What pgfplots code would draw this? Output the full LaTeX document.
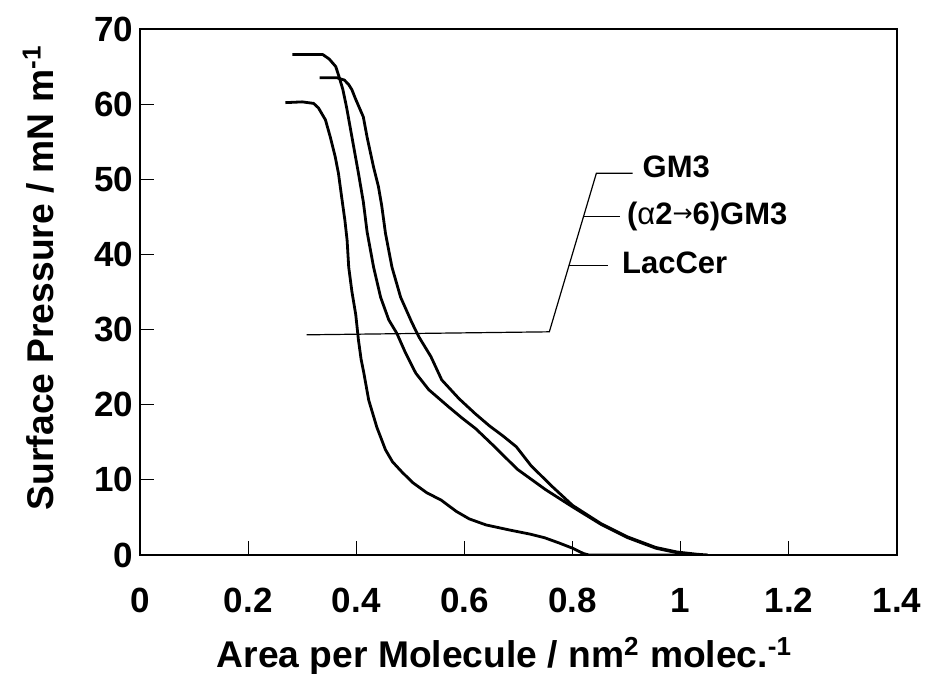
\documentclass[border=0pt]{standalone}
\usepackage{fontspec}
\setmainfont{Liberation Sans}
\newfontfamily\dejavu{DejaVu Sans}
\usepackage{pgfplots}
\pgfplotsset{compat=1.18}
\begin{document}
\begin{tikzpicture}
\begin{axis}[
  scale only axis, width=378.5pt, height=263pt,
  xmin=0, xmax=1.4, ymin=0, ymax=70,
  xtick={0,0.2,0.4,0.6,0.8,1,1.2,1.4},
  xticklabels={0,0.2,0.4,0.6,0.8,1,1.2,1.4},
  ytick={0,10,20,30,40,50,60,70},
  tick align=inside, tick pos=left,
  major tick length=7pt,
  axis line style={line width=0.8pt},
  tick style={line width=0.6pt, black},
  /pgf/number format/assume math mode=true,
  tick label style={font=\fontsize{17.5}{20}\selectfont\bfseries},
  xticklabel style={anchor=base, yshift=-29pt},
  xlabel={Area per Molecule / nm\textsuperscript{2} molec.\textsuperscript{-1}},
  ylabel={Surface Pressure / mN m\textsuperscript{-1}},
  label style={font=\fontsize{18.6}{20}\selectfont\bfseries},
  xlabel style={at={(axis description cs:0.4815,-0.2148)}, anchor=base},
  ylabel style={at={(axis description cs:-0.1148,0.527)}, anchor=base},
]
% left curve (plateau ~60)
\addplot[black, line width=1.4pt, line join=round] coordinates {
(0.269,60.2)(0.300,60.3)(0.321,60.1)(0.330,59.5)(0.343,57.9)(0.352,55.6)(0.361,53.0)
(0.367,50.8)(0.373,47.6)(0.379,44.5)(0.383,41.9)(0.386,38.3)(0.392,35.0)(0.399,32.0)
(0.404,28.6)(0.409,26.0)(0.414,24.2)(0.423,20.6)(0.438,17.0)(0.454,14.0)(0.467,12.4)
(0.485,11.0)(0.505,9.6)(0.530,8.3)(0.557,7.3)(0.585,5.8)(0.609,4.8)(0.640,4.0)
(0.685,3.3)(0.720,2.8)(0.748,2.3)(0.775,1.6)(0.800,0.9)(0.820,0.2)(0.830,0)(1.0,0)};
% middle curve (plateau ~66.6)
\addplot[black, line width=1.4pt, line join=round] coordinates {
(0.282,66.6)(0.338,66.6)(0.350,66.0)(0.362,65.0)(0.367,63.9)(0.375,62.0)(0.382,59.6)
(0.392,55.6)(0.404,50.8)(0.413,47.0)(0.420,43.0)(0.432,38.3)(0.445,34.3)(0.460,31.3)
(0.475,29.5)(0.491,26.9)(0.510,24.2)(0.534,22.0)(0.571,19.7)(0.596,18.2)(0.621,16.8)
(0.653,14.6)(0.698,11.4)(0.750,8.7)(0.800,6.4)(0.852,4.1)(0.902,2.3)(0.954,0.9)
(0.993,0.3)(1.03,0)};
% right curve (plateau ~63.5)
\addplot[black, line width=1.4pt, line join=round] coordinates {
(0.332,63.5)(0.365,63.5)(0.378,63.2)(0.386,62.6)(0.392,61.9)(0.398,60.8)(0.413,58.3)
(0.420,55.6)(0.432,51.6)(0.441,49.0)(0.447,46.5)(0.454,42.8)(0.466,38.3)(0.482,34.3)
(0.503,30.9)(0.516,29.0)(0.538,26.4)(0.558,23.3)(0.590,20.8)(0.620,18.8)(0.646,17.2)
(0.672,15.8)(0.696,14.4)(0.723,11.9)(0.761,9.2)(0.800,6.6)(0.852,4.2)(0.902,2.4)
(0.954,1.0)(0.993,0.4)(1.03,0.1)(1.05,0)};
% leader lines of the labels
\addplot[black, line width=0.6pt] coordinates {(0.308,29.3)(0.757,29.7)(0.844,50.8)(0.911,50.8)};
\addplot[black, line width=0.6pt] coordinates {(0.820,45.0)(0.888,45.0)};
\addplot[black, line width=0.6pt] coordinates {(0.793,38.5)(0.865,38.5)};
\node[anchor=west, inner sep=0pt, font=\fontsize{15.5}{16}\selectfont\bfseries] at (axis cs:0.929,51.6) {GM3};
\node[anchor=west, inner sep=0pt, font=\fontsize{15.5}{16}\selectfont\bfseries] at (axis cs:0.900,45.0) {(\textmd{α}2\raisebox{0.1em}{\dejavu\mdseries\fontsize{12}{12}\selectfont→}6)GM3};
\node[anchor=west, inner sep=0pt, font=\fontsize{15.5}{16}\selectfont\bfseries] at (axis cs:0.891,38.9) {LacCer};
\end{axis}
\pgfresetboundingbox
\path[use as bounding box] ([xshift=-70pt,yshift=-59.5pt]current axis.south west) rectangle ([xshift=16.5pt,yshift=14.5pt]current axis.north east);
\end{tikzpicture}
\end{document}
